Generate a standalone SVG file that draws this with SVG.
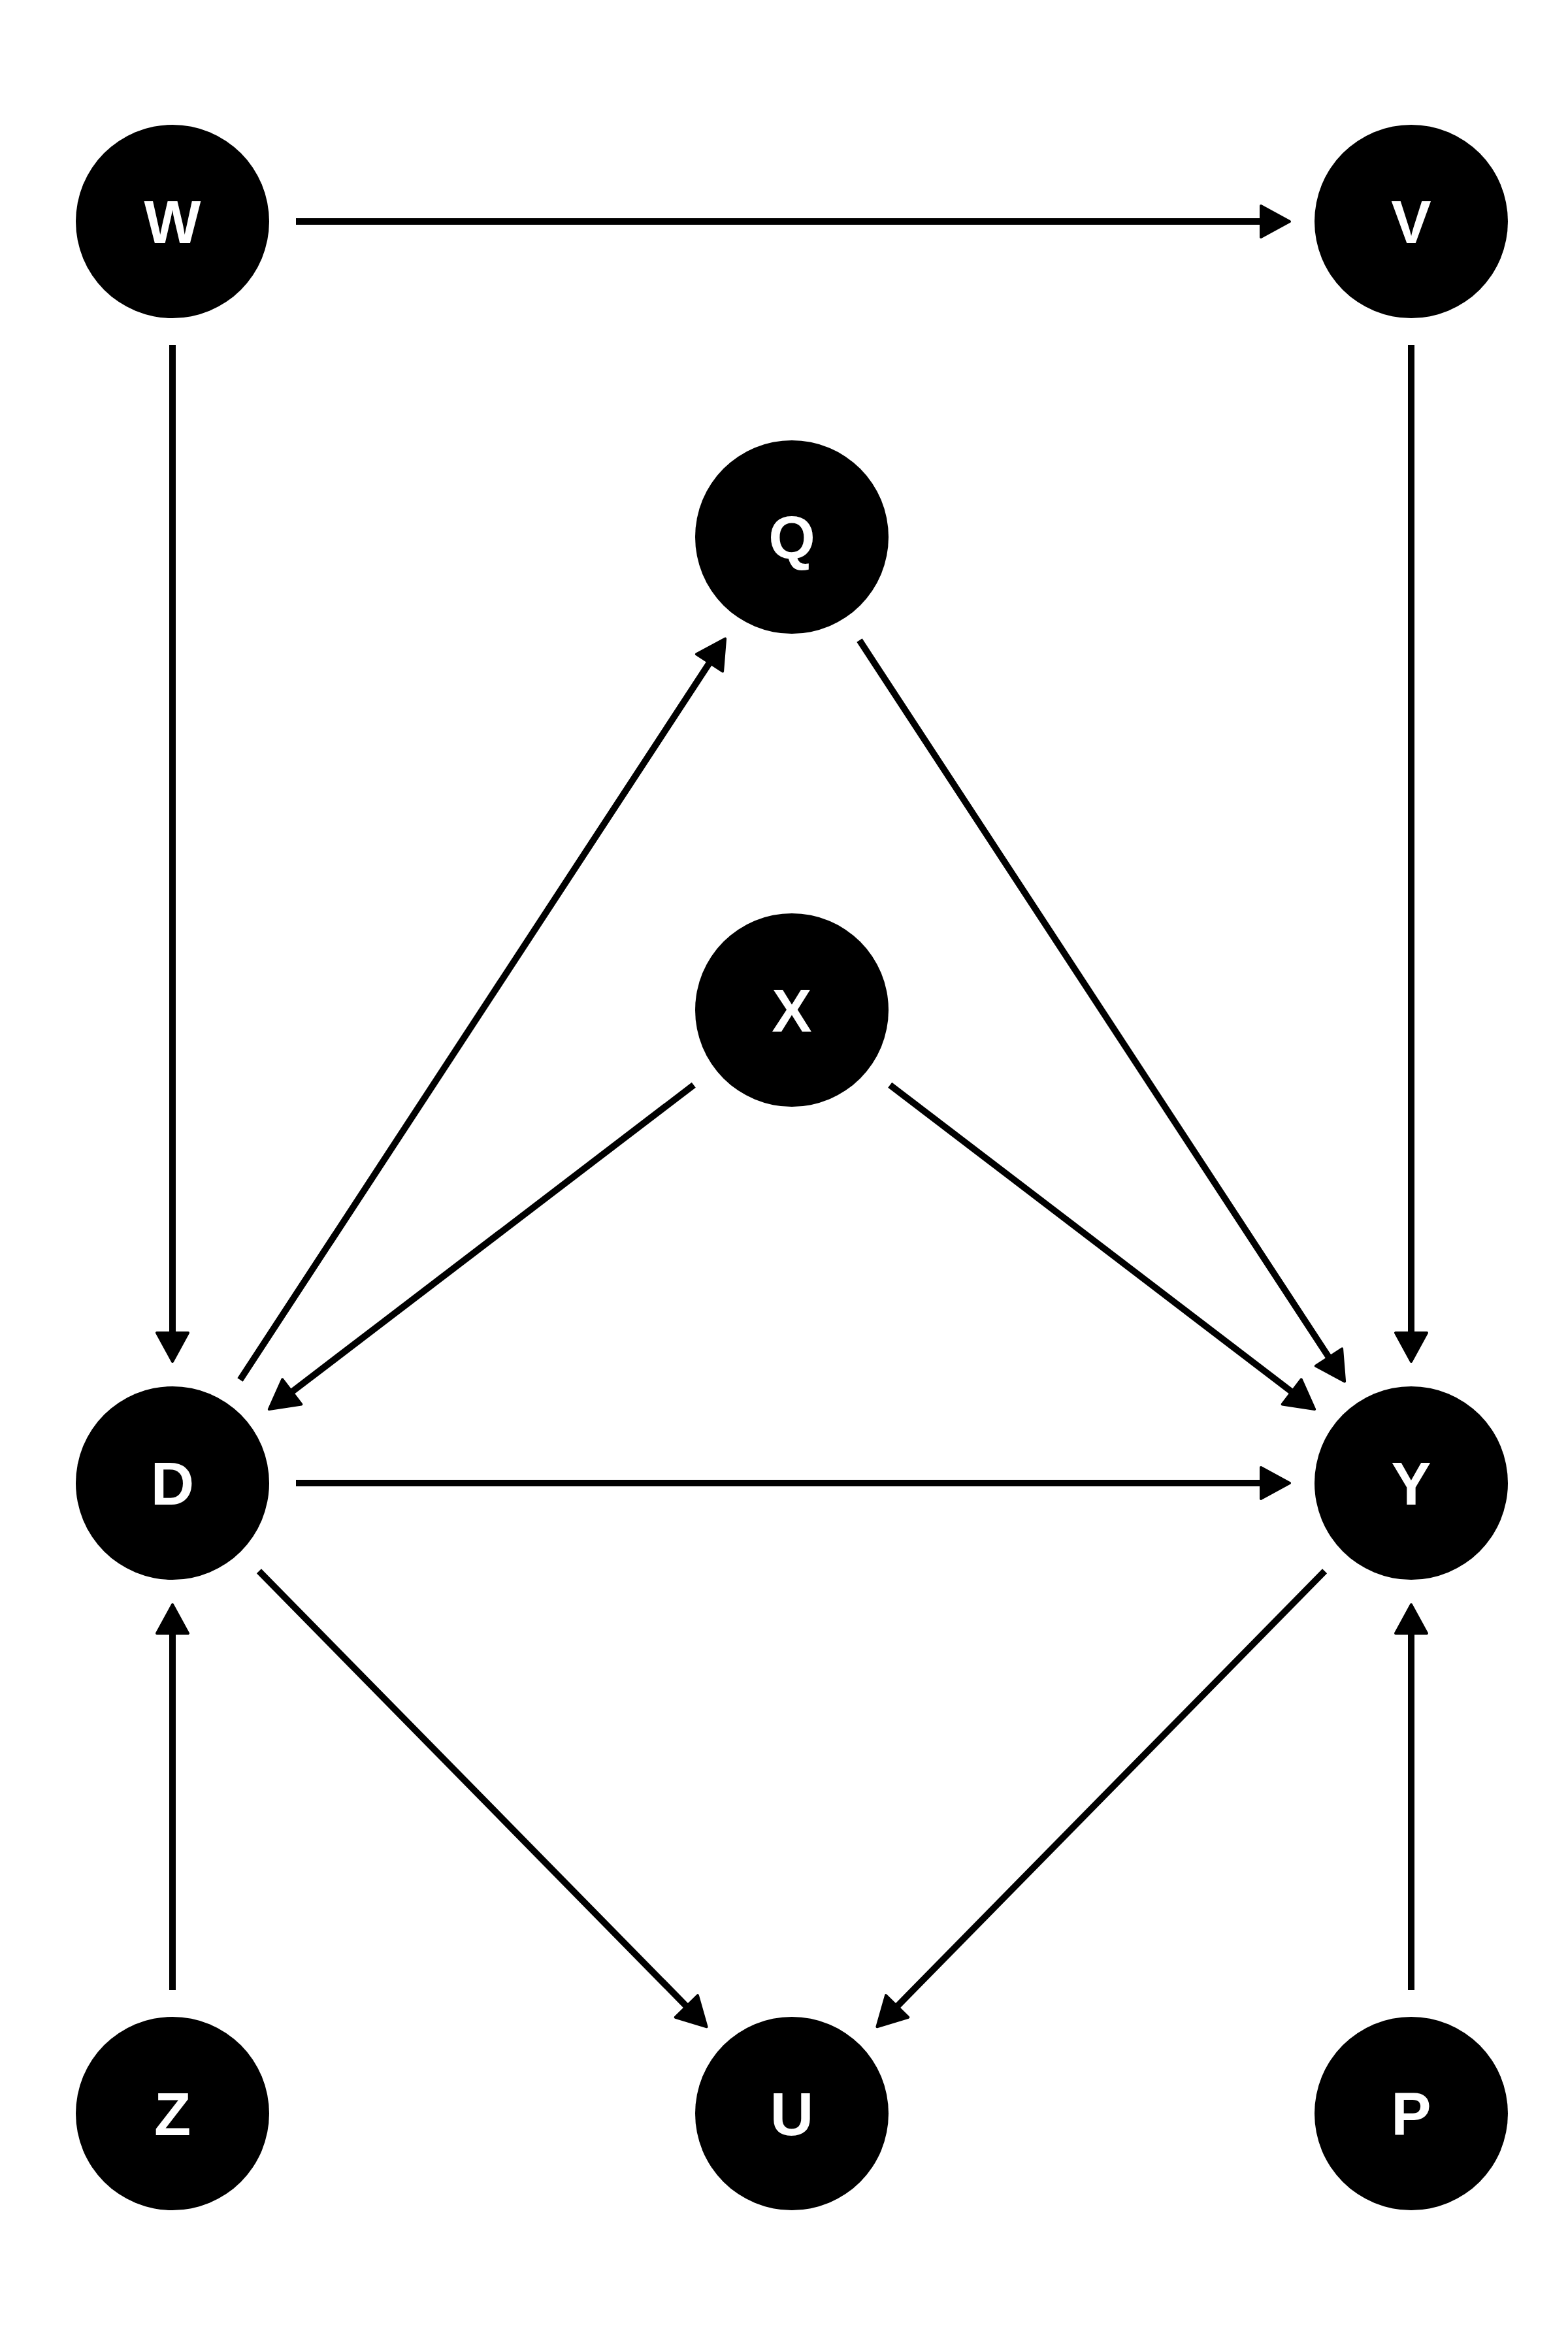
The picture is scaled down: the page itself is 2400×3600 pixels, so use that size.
<svg xmlns="http://www.w3.org/2000/svg" width="2400" height="3600" viewBox="0 0 2400 3600">
<style>
.node circle{fill:#000}
.node text{fill:#fff;font-family:"Liberation Sans",Arial,sans-serif;font-weight:bold;font-size:92px;text-anchor:middle}
.edge{stroke:#000;stroke-width:10;fill:none;marker-end:url(#ah)}
</style>
<defs>
<marker id="ah" markerUnits="userSpaceOnUse" viewBox="-5 -30 60 60" markerWidth="60" markerHeight="60" refX="0" refY="0" orient="auto">
<path d="M0,-24 L44,0 L0,24 Z" fill="#000" stroke="#000" stroke-width="4" stroke-linejoin="round"/>
</marker>
</defs>
<rect width="2400" height="3600" fill="#fff"/>
<g id="connectors">
<line class="edge" x1="453" y1="339" x2="1930" y2="339"/>
<line class="edge" x1="264" y1="528" x2="264" y2="2040"/>
<line class="edge" x1="2160" y1="528" x2="2160" y2="2040"/>
<line class="edge" x1="453" y1="2270" x2="1930" y2="2270"/>
<line class="edge" x1="264" y1="3046" x2="264" y2="2500"/>
<line class="edge" x1="2160" y1="3046" x2="2160" y2="2500"/>
<line class="edge" x1="367.5" y1="2111.9" x2="1086" y2="1014.4"/>
<line class="edge" x1="1315.5" y1="980.1" x2="2034" y2="2077.6"/>
<line class="edge" x1="1061.8" y1="1660.7" x2="446.8" y2="2130.4"/>
<line class="edge" x1="1362.2" y1="1660.7" x2="1977.2" y2="2130.4"/>
<line class="edge" x1="396.4" y1="2404.8" x2="1050.8" y2="3070.9"/>
<line class="edge" x1="2027.6" y1="2404.8" x2="1373.2" y2="3070.9"/>
</g>
<g id="W" class="node"><circle cx="264" cy="339" r="148"/><text x="264" y="372">W</text></g>
<g id="V" class="node"><circle cx="2160" cy="339" r="148"/><text x="2160" y="372">V</text></g>
<g id="Q" class="node"><circle cx="1212" cy="822" r="148"/><text x="1212" y="855">Q</text></g>
<g id="X" class="node"><circle cx="1212" cy="1546" r="148"/><text x="1212" y="1579">X</text></g>
<g id="D" class="node"><circle cx="264" cy="2270" r="148"/><text x="264" y="2303">D</text></g>
<g id="Y" class="node"><circle cx="2160" cy="2270" r="148"/><text x="2160" y="2303">Y</text></g>
<g id="Z" class="node"><circle cx="264" cy="3235" r="148"/><text x="264" y="3268">Z</text></g>
<g id="U" class="node"><circle cx="1212" cy="3235" r="148"/><text x="1212" y="3268">U</text></g>
<g id="P" class="node"><circle cx="2160" cy="3235" r="148"/><text x="2160" y="3268">P</text></g>
</svg>
